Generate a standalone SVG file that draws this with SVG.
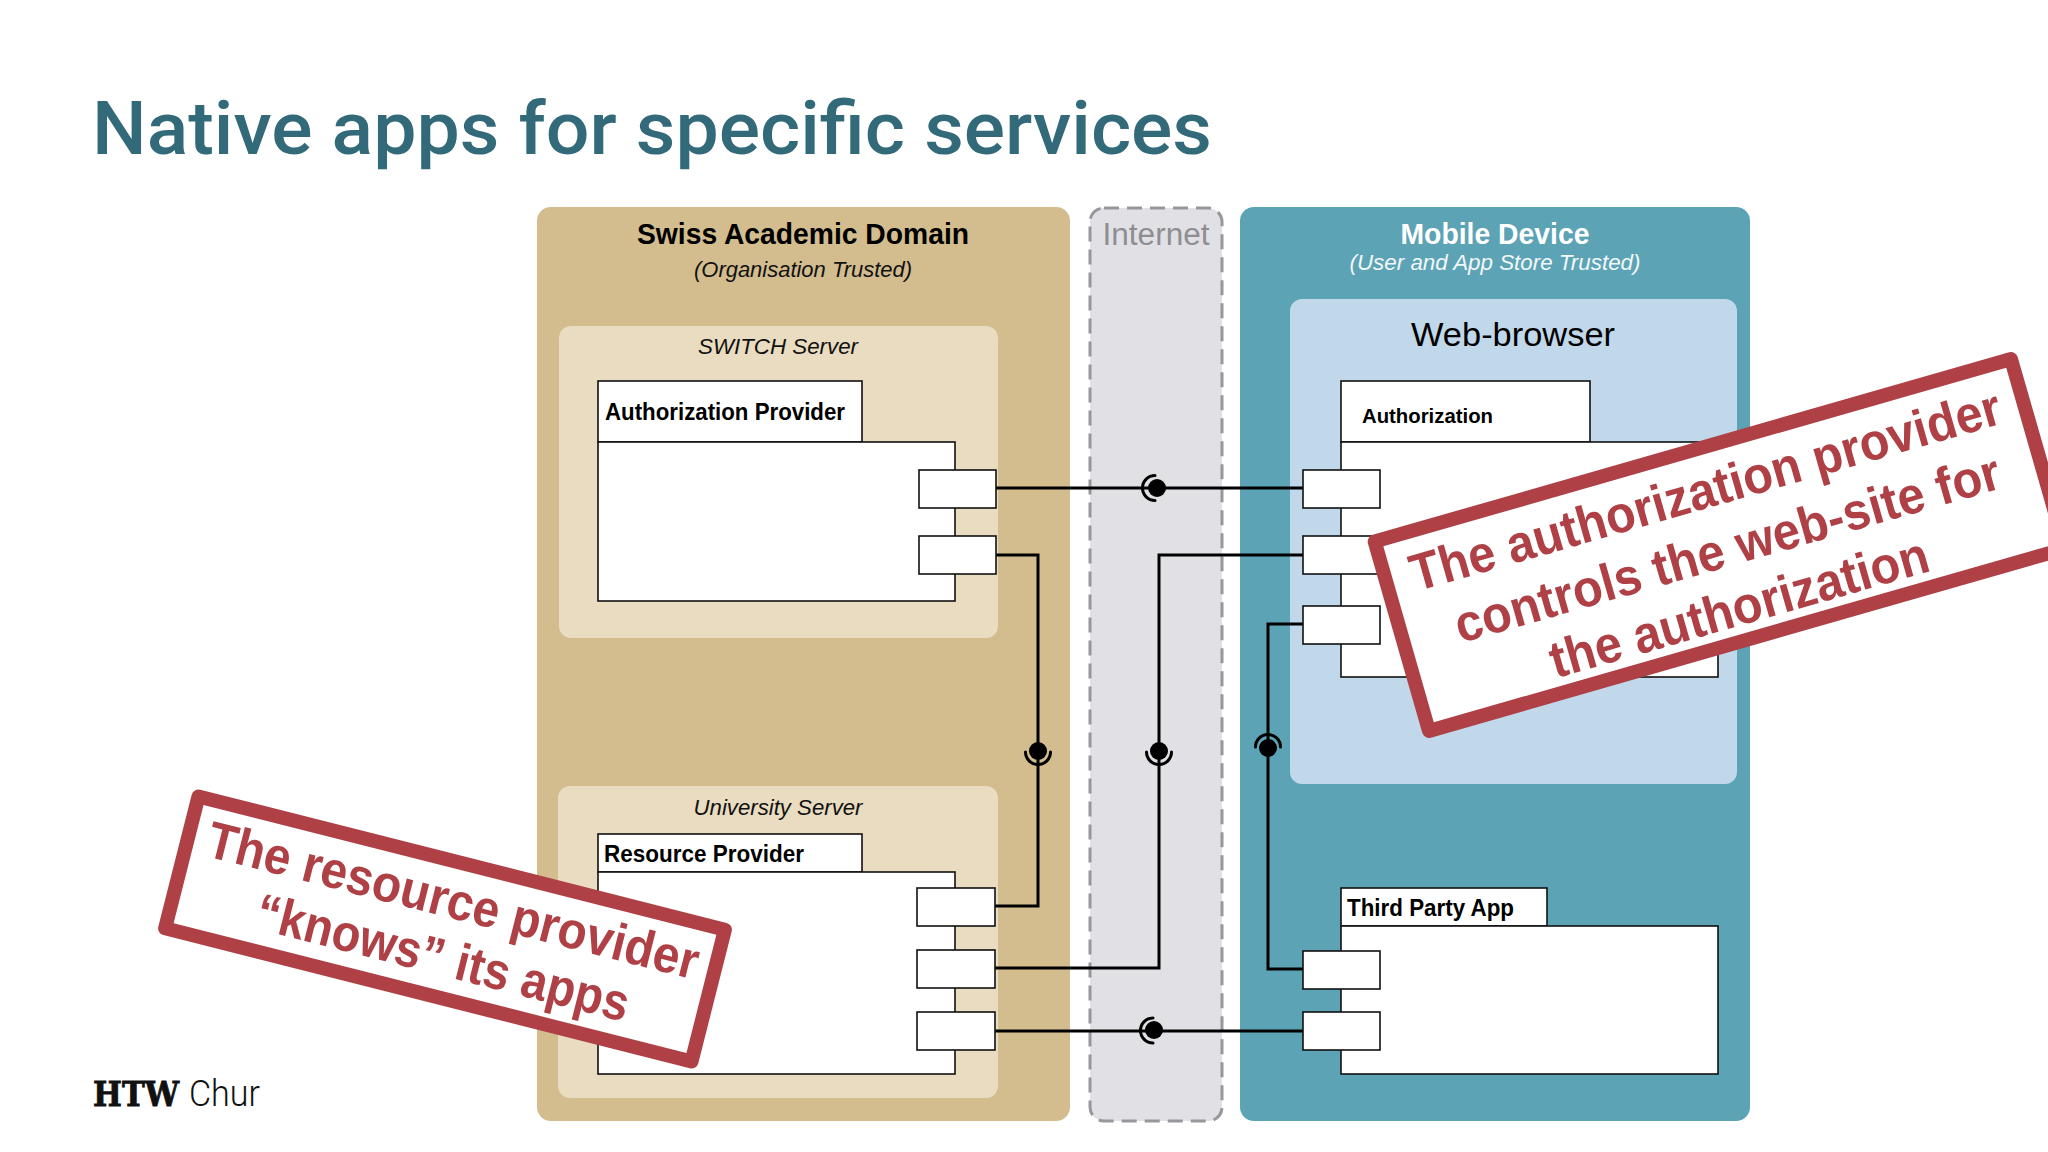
<svg xmlns="http://www.w3.org/2000/svg" width="2048" height="1152" viewBox="0 0 2048 1152">
<style>
text{font-family:"Liberation Sans",Arial,sans-serif}
.box{fill:#fff;stroke:#111;stroke-width:1.6}
.b{font-weight:700;fill:#000}
.i{font-style:italic;fill:#111}
.c{text-anchor:middle}
.line{fill:none;stroke:#000;stroke-width:3;stroke-linejoin:miter}
.arc{fill:none;stroke:#000;stroke-width:3;stroke-linecap:round}
.ball{fill:#000}
.stamp{fill:#fff;stroke:#ae4046;stroke-width:14;stroke-linejoin:round}
.st{fill:#ae4046;font-weight:700;text-anchor:middle;font-size:52px}
</style>
<rect width="2048" height="1152" fill="#fff"/>
<text x="92" y="154" font-size="75" font-weight="500" fill="#336a7a" textLength="1120" lengthAdjust="spacingAndGlyphs" style="font-family:Roboto,sans-serif">Native apps for specific services</text>

<g id="swiss-domain">
<rect x="537" y="207" width="533" height="914" rx="14" fill="#d3bc8d"/>
<text class="b c" x="803" y="243.500" font-size="29" textLength="332" lengthAdjust="spacingAndGlyphs">Swiss Academic Domain</text>
<text class="i c" x="803" y="277" font-size="22" textLength="218" lengthAdjust="spacingAndGlyphs">(Organisation Trusted)</text>
</g>
<g id="internet">
<rect x="1090" y="208" width="132" height="913" rx="14" fill="#e1e0e4" stroke="#97969b" stroke-width="3" stroke-dasharray="15 8"/>
<text class="c" x="1156" y="245" font-size="31" fill="#8e8e92" textLength="107" lengthAdjust="spacingAndGlyphs">Internet</text>
</g>
<g id="mobile-device">
<rect x="1240" y="207" width="510" height="914" rx="14" fill="#5ca3b5"/>
<text class="c" x="1495" y="243.500" font-size="29" font-weight="700" fill="#fff" textLength="189" lengthAdjust="spacingAndGlyphs">Mobile Device</text>
<text class="c" x="1495" y="270" font-size="22" font-style="italic" fill="#f2f7f9" textLength="291" lengthAdjust="spacingAndGlyphs">(User and App Store Trusted)</text>
</g>
<g id="web-browser">
<rect x="1290" y="299" width="447" height="485" rx="12" fill="#c1d8ea"/>
<text class="c" x="1513" y="346" font-size="34" fill="#000" textLength="204" lengthAdjust="spacingAndGlyphs">Web-browser</text>
</g>
<g id="switch-server">
<rect x="559" y="326" width="439" height="312" rx="12" fill="#e9dcc0"/>
<text class="i c" x="778" y="354" font-size="22" textLength="160" lengthAdjust="spacingAndGlyphs">SWITCH Server</text>
</g>
<g id="university-server">
<rect x="558" y="786" width="440" height="312" rx="12" fill="#e9dcc0"/>
<text class="i c" x="778" y="815" font-size="22" textLength="169" lengthAdjust="spacingAndGlyphs">University Server</text>
</g>

<g id="connectors">
<path class="line" d="M996 488H1303"/>
<path class="line" d="M996 555H1038V906H994"/>
<path class="line" d="M994 968H1159V555H1303"/>
<path class="line" d="M1303 624H1268V969H1303"/>
<path class="line" d="M994 1031H1303"/>
<path class="arc" d="M1155 475.500A12.500 12.500 0 0 0 1155 500.500"/><circle class="ball" cx="1157" cy="488" r="9"/>
<path class="arc" d="M1025.500 752A12.500 12.500 0 0 0 1050.500 752"/><circle class="ball" cx="1038" cy="751" r="9"/>
<path class="arc" d="M1146.500 752A12.500 12.500 0 0 0 1171.500 752"/><circle class="ball" cx="1159" cy="751" r="9"/>
<path class="arc" d="M1255.500 747A12.500 12.500 0 0 1 1280.500 747"/><circle class="ball" cx="1268" cy="748" r="9"/>
<path class="arc" d="M1153 1018A12.500 12.500 0 0 0 1153 1043"/><circle class="ball" cx="1154" cy="1030" r="9"/>
</g>

<g id="authorization-provider">
<rect class="box" x="598" y="381" width="264" height="61"/>
<rect class="box" x="598" y="442" width="357" height="159"/>
<text class="b" x="605" y="420" font-size="23" textLength="240" lengthAdjust="spacingAndGlyphs">Authorization Provider</text>
<rect class="box" x="919" y="470" width="77" height="38"/>
<rect class="box" x="919" y="536" width="77" height="38"/>
</g>
<g id="resource-provider">
<rect class="box" x="598" y="834" width="264" height="38"/>
<rect class="box" x="598" y="872" width="357" height="202"/>
<text class="b" x="604" y="862" font-size="23" textLength="200" lengthAdjust="spacingAndGlyphs">Resource Provider</text>
<rect class="box" x="917" y="888" width="78" height="38"/>
<rect class="box" x="917" y="950" width="78" height="38"/>
<rect class="box" x="917" y="1012" width="78" height="38"/>
</g>
<g id="authorization">
<rect class="box" x="1341" y="381" width="249" height="61"/>
<rect class="box" x="1341" y="442" width="377" height="235"/>
<text class="b" x="1362" y="423" font-size="21" textLength="131" lengthAdjust="spacingAndGlyphs">Authorization</text>
<rect class="box" x="1303" y="470" width="77" height="38"/>
<rect class="box" x="1303" y="536" width="77" height="38"/>
<rect class="box" x="1303" y="606" width="77" height="38"/>
</g>
<g id="third-party-app">
<rect class="box" x="1341" y="888" width="206" height="38"/>
<rect class="box" x="1341" y="926" width="377" height="148"/>
<text class="b" x="1347" y="916" font-size="23" textLength="167" lengthAdjust="spacingAndGlyphs">Third Party App</text>
<rect class="box" x="1303" y="951" width="77" height="38"/>
<rect class="box" x="1303" y="1012" width="77" height="38"/>
</g>

<g id="logo">
<text x="93" y="1106" font-size="33" font-weight="700" fill="#111" stroke="#111" stroke-width="0.800" textLength="86" lengthAdjust="spacingAndGlyphs" style="font-family:'DejaVu Serif',serif">HTW</text>
<text x="189" y="1106" font-size="36" font-weight="300" fill="#111" textLength="71" lengthAdjust="spacingAndGlyphs" style="font-family:Roboto,sans-serif">Chur</text>
</g>

<g id="stamp-resource" transform="translate(445 929) rotate(14.2)">
<rect class="stamp" x="-271.500" y="-68" width="543" height="136"/>
<text class="st" x="1" y="-12" textLength="505" lengthAdjust="spacingAndGlyphs">The resource provider</text>
<text class="st" x="5" y="46" textLength="383" lengthAdjust="spacingAndGlyphs">“knows” its apps</text>
</g>
<g id="stamp-authorization" transform="translate(1720 545) rotate(-16)">
<rect class="stamp" x="-331" y="-98.500" width="662" height="197"/>
<text class="st" x="1" y="-39" textLength="612" lengthAdjust="spacingAndGlyphs">The authorization provider</text>
<text class="st" x="6" y="23" textLength="565" lengthAdjust="spacingAndGlyphs">controls the web-site for</text>
<text class="st" x="1" y="83" textLength="392" lengthAdjust="spacingAndGlyphs">the authorization</text>
</g>
</svg>
